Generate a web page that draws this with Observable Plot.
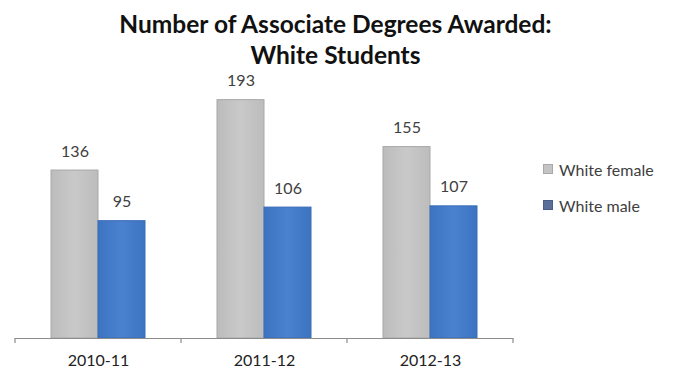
<!DOCTYPE html>
<html>
<head>
<meta charset="utf-8">
<script src="https://cdn.jsdelivr.net/npm/d3@7"></script>
<script src="https://cdn.jsdelivr.net/npm/@observablehq/plot@0.6"></script>
<style>
  body { margin: 0; background: #fff; font-family: Lato, "Open Sans", sans-serif; }
  #wrap { position: relative; width: 684px; height: 371px; }
  #title { height: 70px; box-sizing: border-box; padding-top: 8px; text-align: center; width: 671px;
           font-weight: bold; font-size: 24.5px; line-height: 31px; color: #111; }
  #legend { position: absolute; left: 543px; top: 151px; font-size: 16px; color: #404040; }
  #legend div { display: flex; align-items: center; height: 36px; }
  #legend span.sw { display: inline-block; width: 8px; height: 8px; margin-right: 6px; border: 1px solid #999; }
</style>
</head>
<body>
<div id="wrap">
  <div id="title">Number of Associate Degrees Awarded:<br>White Students</div>
  <div id="chart"></div>
  <div id="legend"></div>
</div>
<script>
const years = ["2010-11", "2011-12", "2012-13"];
const series = ["White female", "White male"];
const femaleValues = [136, 193, 155];
const maleValues = [95, 106, 107];
const swatchColors = ["#c4c4c4", "#5a6e9a"];
const swatchBorders = ["#a8a8a8", "#4a5d88"];
const fills = ["url(#gGray)", "url(#gBlue)"];
const strokes = ["#a8a8a8", "#3a6cb5"];

const data = [];
years.forEach((y, i) => {
  data.push({year: y, series: series[0], value: femaleValues[i]});
  data.push({year: y, series: series[1], value: maleValues[i]});
});

const chart = Plot.plot({
  width: 684,
  height: 301,
  marginLeft: 14,
  marginRight: 170,
  marginTop: 0,
  marginBottom: 33,
  style: {fontFamily: "Lato, 'Open Sans', sans-serif", background: "transparent"},
  fx: {domain: years, padding: 0, label: null, axis: "bottom", tickSize: 0, tickPadding: 16},
  x: {domain: series, paddingInner: 0, paddingOuter: 0.76, axis: null},
  y: {domain: [0, 217], axis: null},
  color: {domain: series, range: fills},
  marks: [
    Plot.barY(data, {fx: "year", x: "series", y: "value", fill: "series",
      stroke: d => strokes[series.indexOf(d.series)], strokeWidth: 1}),
    Plot.text(data, {fx: "year", x: "series", y: "value", text: d => String(d.value),
      dy: -19, fontSize: 16, fill: "#404040"}),
    Plot.ruleY([0], {stroke: "#8c8c8c", strokeWidth: 1.2})
  ]
});

d3.select(chart).selectAll("[aria-label='fx-axis tick label'] text, [aria-label='fx-axis'] text")
  .style("font-size", "16px").attr("fill", "#222");
d3.select(chart).style("overflow", "visible");

const svg = d3.select(chart);
const defs = svg.insert("defs", ":first-child");
function grad(id, c1, c2) {
  const g = defs.append("linearGradient").attr("id", id).attr("x1", "0").attr("x2", "1").attr("y1", "0").attr("y2", "0");
  g.append("stop").attr("offset", "0%").attr("stop-color", c1);
  g.append("stop").attr("offset", "50%").attr("stop-color", c2);
  g.append("stop").attr("offset", "100%").attr("stop-color", c1);
}
grad("gGray", "#bcbcbc", "#c9c9c9");
grad("gBlue", "#3c74c2", "#4a82d0");

const fx = chart.scale("fx");
const yS = chart.scale("y");
const y0 = yS.apply(0);
const edges = [];
years.forEach(y => { edges.push(fx.apply(y)); });
edges.push(fx.apply(years[years.length - 1]) + fx.bandwidth);
svg.append("g").selectAll("line").data(edges).join("line")
  .attr("x1", d => d).attr("x2", d => d).attr("y1", y0).attr("y2", y0 + 5)
  .attr("stroke", "#8c8c8c").attr("stroke-width", 1.2);

document.getElementById("chart").appendChild(chart);

const legend = document.getElementById("legend");
series.forEach((s, i) => {
  const row = document.createElement("div");
  const sw = document.createElement("span");
  sw.className = "sw";
  sw.style.background = swatchColors[i];
  sw.style.borderColor = swatchBorders[i];
  row.appendChild(sw);
  row.appendChild(document.createTextNode(s));
  legend.appendChild(row);
});
</script>
</body>
</html>
